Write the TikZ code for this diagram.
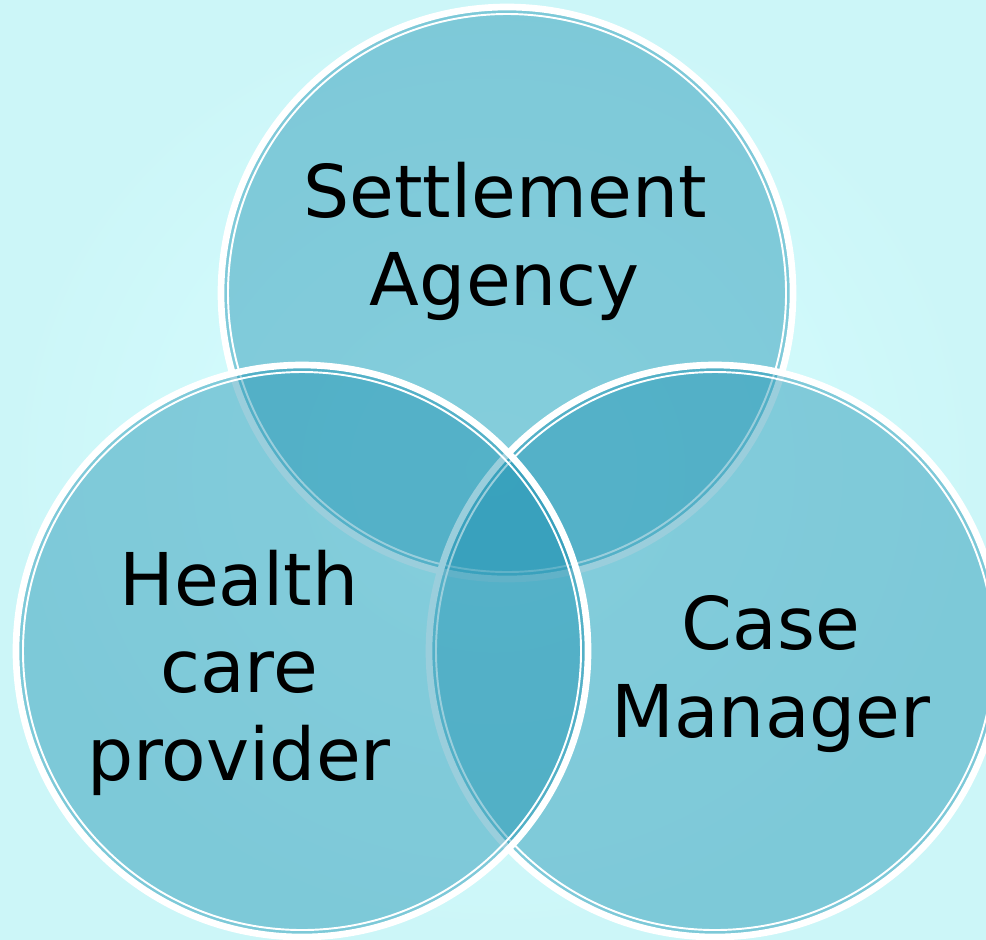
\documentclass[tikz,border=0pt]{standalone}
\usepackage{fontspec}
\setmainfont{DejaVu Sans}
\definecolor{bginner}{RGB}{216,255,255}
\definecolor{bgouter}{RGB}{204,246,248}
\definecolor{ringfill}{RGB}{23,142,175}
\tikzset{
  ring/.style={fill=ringfill, fill opacity=0.43},
  ringedge/.style={draw=white, line width=1.9pt},
  ringline/.style={draw=white, line width=0.55pt},
}
\begin{document}
\begin{tikzpicture}[x=0.01cm, y=-0.01cm]
  \shade[inner color=bginner, outer color=bgouter] (0,0) rectangle (986,939);
  \useasboundingbox (0,0) rectangle (986,939);

  \coordinate (top)   at (507,293);
  \coordinate (right) at (715,651);
  \coordinate (left)  at (302,651);

  % circles, drawn back to front
  \foreach \c in {top,right,left} {
    \fill[ring] (\c) circle (286);
    \draw[ringedge] (\c) circle (286);
    \draw[ringline] (\c) circle (279);
  }

  % anchor=base sits on the last line
  \begin{scope}[every node/.style={align=center, inner sep=0pt, anchor=base,
      font=\fontsize{20.7pt}{24.8pt}\selectfont}]
    \node (settle) at (505,305) {Settlement\\Agency};
    \node (health) at (239,780) {Health\\care\\provider};
    \node (case)   at (771,737) {Case\\Manager};
  \end{scope}

\end{tikzpicture}
\end{document}
